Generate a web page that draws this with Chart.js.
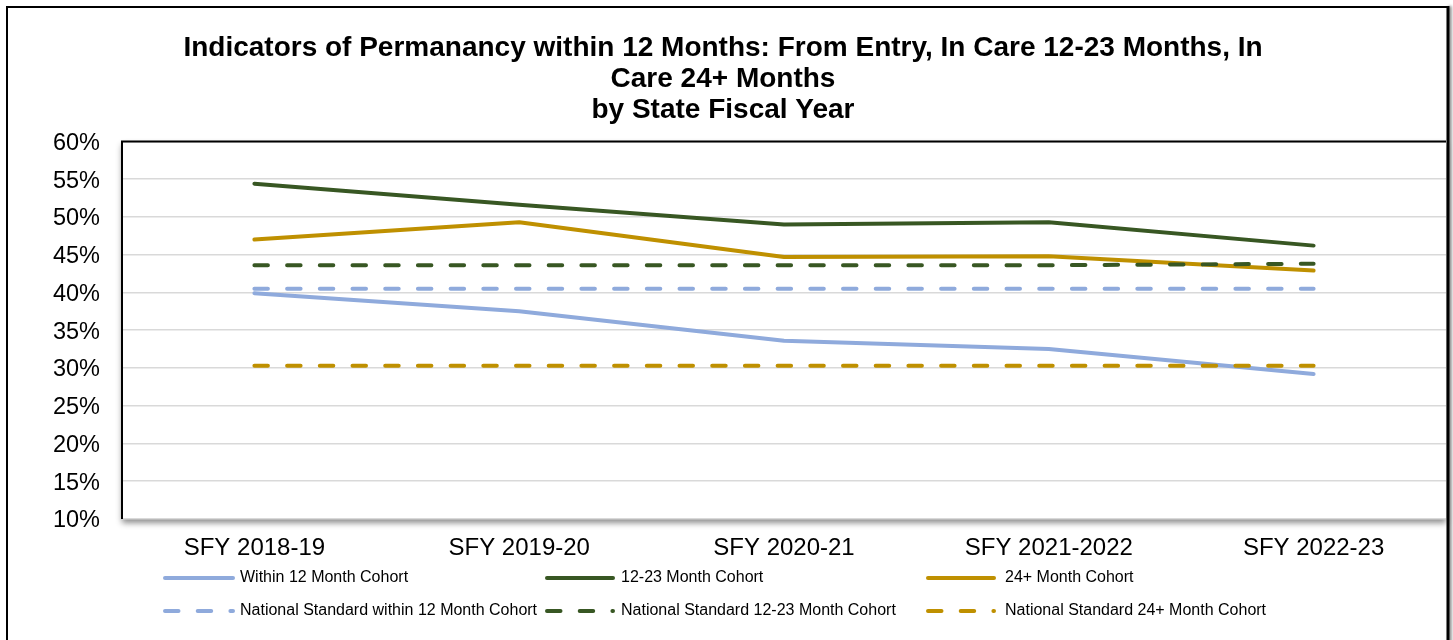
<!DOCTYPE html>
<html><head><meta charset="utf-8">
<script src="https://cdn.jsdelivr.net/npm/chart.js@4.4.1/dist/chart.umd.min.js"></script>
<style>
html,body{margin:0;padding:0;background:#fff;overflow:hidden}
#wrap{position:relative;width:1453px;height:640px}
canvas{display:block}
</style></head><body>
<div id="wrap"><canvas id="c" width="1453" height="640"></canvas></div>
<script>
// ---- data ----
const categories = ['SFY 2018-19', 'SFY 2019-20', 'SFY 2020-21', 'SFY 2021-2022', 'SFY 2022-23'];
const within12 = [39.9, 37.5, 33.6, 32.5, 29.2];
const months12to23 = [54.4, 51.6, 49.0, 49.3, 46.2];
const months24plus = [47.0, 49.3, 44.7, 44.8, 42.9];
const natWithin12 = [40.5, 40.5, 40.5, 40.5, 40.5];
const nat12to23 = [43.6, 43.6, 43.6, 43.6, 43.8];
const nat24plus = [30.3, 30.3, 30.3, 30.3, 30.3];
const yTickValues = [10, 15, 20, 25, 30, 35, 40, 45, 50, 55, 60];
const seriesLabels = ['Within 12 Month Cohort', '12-23 Month Cohort', '24+ Month Cohort',
  'National Standard within 12 Month Cohort', 'National Standard 12-23 Month Cohort', 'National Standard 24+ Month Cohort'];
const titleLines = ['Indicators of Permanancy within 12 Months: From Entry, In Care 12-23 Months, In', 'Care 24+ Months', 'by State Fiscal Year'];

// ---- styles ----
const BLUE = '#8FAADC', GREEN = '#385723', GOLD = '#BF9000';
const DASH = [13.5, 19.2];
const FONT = "'Liberation Sans', Arial, Helvetica, sans-serif";

const PLOT = {left: 122, top: 141, right: 1446, bottom: 519};

function ds(label, data, color, dashed, order) {
  return {
    label, data, borderColor: color, backgroundColor: color, borderWidth: 4,
    borderDash: dashed ? DASH : [], borderCapStyle: 'round', borderJoinStyle: 'round',
    pointRadius: 0, pointHoverRadius: 0, tension: 0, fill: false, order
  };
}

const framePlugin = {
  id: 'frame',
  beforeDraw(chart) {
    const ctx = chart.ctx, a = chart.chartArea;
    ctx.save();
    ctx.fillStyle = '#fff';
    ctx.fillRect(0, 0, chart.width, chart.height);
    ctx.shadowColor = 'rgba(0,0,0,0.45)';
    ctx.shadowBlur = 6;
    ctx.shadowOffsetX = 0;
    ctx.shadowOffsetY = 4;
    ctx.fillRect(a.left, a.top, a.right - a.left, a.bottom - a.top);
    ctx.restore();
  },
  afterDatasetsDraw(chart) {
    const ctx = chart.ctx, a = chart.chartArea;
    ctx.save();
    ctx.strokeStyle = '#000';
    ctx.lineWidth = 2;
    ctx.beginPath();
    ctx.moveTo(a.left, a.bottom);
    ctx.lineTo(a.left, a.top);
    ctx.lineTo(a.right, a.top);
    ctx.stroke();
    ctx.beginPath();
    ctx.moveTo(7, chart.height + 5);
    ctx.lineTo(7, 7);
    ctx.lineTo(1448, 7);
    ctx.stroke();
    ctx.shadowColor = 'rgba(0,0,0,0.5)';
    ctx.shadowBlur = 3;
    ctx.shadowOffsetX = 2;
    ctx.lineWidth = 3;
    ctx.beginPath();
    ctx.moveTo(1448, 6);
    ctx.lineTo(1448, chart.height + 5);
    ctx.stroke();
    ctx.restore();
  }
};

const legendPlugin = {
  id: 'customLegend',
  afterDraw(chart) {
    const ctx = chart.ctx;
    const colX = [165, 547, 928], lineLen = [68, 66, 66], textX = [240, 621, 1005], rowY = [578, 611];
    ctx.save();
    chart.data.datasets.forEach((d, i) => {
      const col = i % 3, row = Math.floor(i / 3);
      const y = rowY[row];
      ctx.strokeStyle = d.borderColor;
      ctx.lineWidth = d.borderWidth;
      ctx.lineCap = 'round';
      ctx.setLineDash(d.borderDash || []);
      ctx.beginPath();
      ctx.moveTo(colX[col], y);
      ctx.lineTo(colX[col] + lineLen[col], y);
      ctx.stroke();
      ctx.setLineDash([]);
      ctx.fillStyle = '#000';
      ctx.font = '16px ' + FONT;
      ctx.textBaseline = 'middle';
      ctx.textAlign = 'left';
      ctx.fillText(d.label, textX[col], y);
    });
    ctx.restore();
  }
};

Chart.defaults.font.family = FONT;
Chart.defaults.color = '#000';

new Chart(document.getElementById('c'), {
  type: 'line',
  data: {
    labels: categories,
    datasets: [
      ds(seriesLabels[0], within12, BLUE, false, 6),
      ds(seriesLabels[1], months12to23, GREEN, false, 5),
      ds(seriesLabels[2], months24plus, GOLD, false, 4),
      ds(seriesLabels[3], natWithin12, BLUE, true, 3),
      ds(seriesLabels[4], nat12to23, GREEN, true, 2),
      ds(seriesLabels[5], nat24plus, GOLD, true, 1)
    ]
  },
  options: {
    responsive: false,
    animation: false,
    devicePixelRatio: 1,
    layout: {padding: {left: 0, right: 1453 - PLOT.right, top: 0, bottom: 0}},
    plugins: {
      legend: {display: false},
      tooltip: {enabled: false},
      title: {
        display: true,
        text: titleLines,
        color: '#000',
        font: {size: 28, weight: 'bold', family: FONT, lineHeight: 1.1},
        padding: {top: 33, bottom: 16}
      }
    },
    scales: {
      x: {
        offset: true,
        grid: {display: false, drawTicks: false},
        border: {display: false},
        ticks: {font: {size: 24}, padding: 15, maxRotation: 0, autoSkip: false},
        afterFit(s) { s.height = 640 - PLOT.bottom; }
      },
      y: {
        min: 10, max: 60,
        grid: {color: '#d9d9d9', lineWidth: 1.5, drawTicks: false},
        border: {display: false},
        ticks: {font: {size: 23.5}, padding: 22, labelOffset: 2, callback: v => v + '%'},
        afterBuildTicks(s) { s.ticks = yTickValues.map(v => ({value: v})); },
        afterFit(s) { s.width = PLOT.left; }
      }
    }
  },
  plugins: [framePlugin, legendPlugin]
});
</script>
</body></html>
